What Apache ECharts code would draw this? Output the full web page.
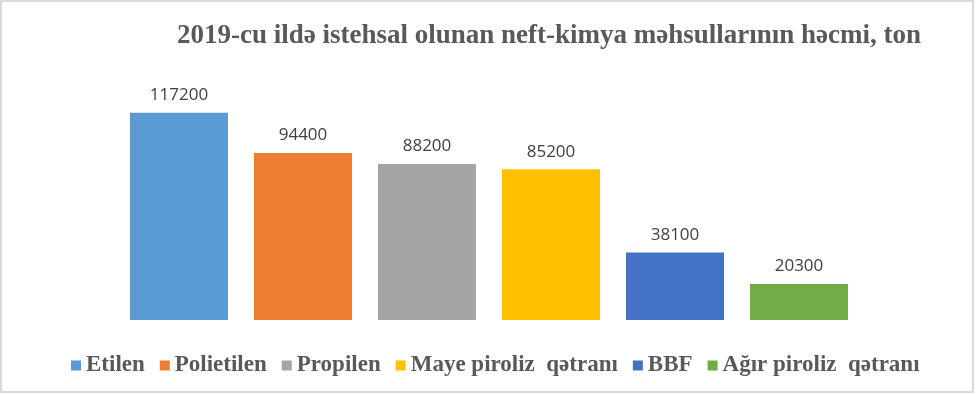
<!DOCTYPE html>
<html>
<head>
<meta charset="utf-8">
<script src="https://cdn.jsdelivr.net/npm/echarts@6/dist/echarts.min.js"></script>
<style>
html,body{margin:0;padding:0;background:#fff;}
#c{width:976px;height:394px;}
</style>
</head>
<body>
<div id="c"></div>
<script>
var titleText = "2019-cu ildə istehsal olunan neft-kimya məhsullarının həcmi, ton";
var categories = ["Etilen", "Polietilen", "Propilen", "Maye piroliz  qətranı", "BBF", "Ağır piroliz  qətranı"];
var values = [117200, 94400, 88200, 85200, 38100, 20300];
var colors = ["#5B9BD5", "#ED7D31", "#A5A5A5", "#FFC000", "#4472C4", "#70AD47"];

var chart = echarts.init(document.getElementById('c'), null, {renderer: 'canvas'});
var series = categories.map(function (name, i) {
  var d = categories.map(function (_, j) { return j === i ? values[i] : null; });
  return {
    name: name,
    type: 'bar',
    data: d,
    barWidth: 98,
    barGap: '-100%',
    itemStyle: {color: colors[i]},
    label: {
      show: true,
      position: 'top',
      distance: 9,
      color: '#404040',
      fontFamily: 'Open Sans',
      fontSize: 17
    }
  };
});

chart.setOption({
  animation: false,
  backgroundColor: '#ffffff',
  title: {
    text: titleText,
    left: 172,
    top: 18,
    textStyle: {
      fontFamily: 'Liberation Serif',
      fontWeight: 'bold',
      fontSize: 27,
      color: '#595959'
    }
  },
  legend: {
    data: categories,
    left: 66,
    top: 349,
    icon: 'rect',
    itemWidth: 10,
    itemHeight: 10,
    itemGap: 15,
    textStyle: {
      fontFamily: 'Liberation Serif',
      fontWeight: 'bold',
      fontSize: 23,
      color: '#595959'
    }
  },
  grid: {left: 117, right: 115, top: 90, bottom: 74},
  xAxis: {
    type: 'category',
    data: categories,
    axisLine: {show: false},
    axisTick: {show: false},
    axisLabel: {show: false}
  },
  yAxis: {
    type: 'value',
    min: 0,
    max: 130000,
    show: false,
    splitLine: {show: false}
  },
  graphic: [{
    type: 'rect',
    shape: {x: 1, y: 1, width: 972, height: 391},
    style: {fill: 'none', stroke: '#d9d9d9', lineWidth: 2},
    silent: true
  }],
  series: series
});
</script>
</body>
</html>
